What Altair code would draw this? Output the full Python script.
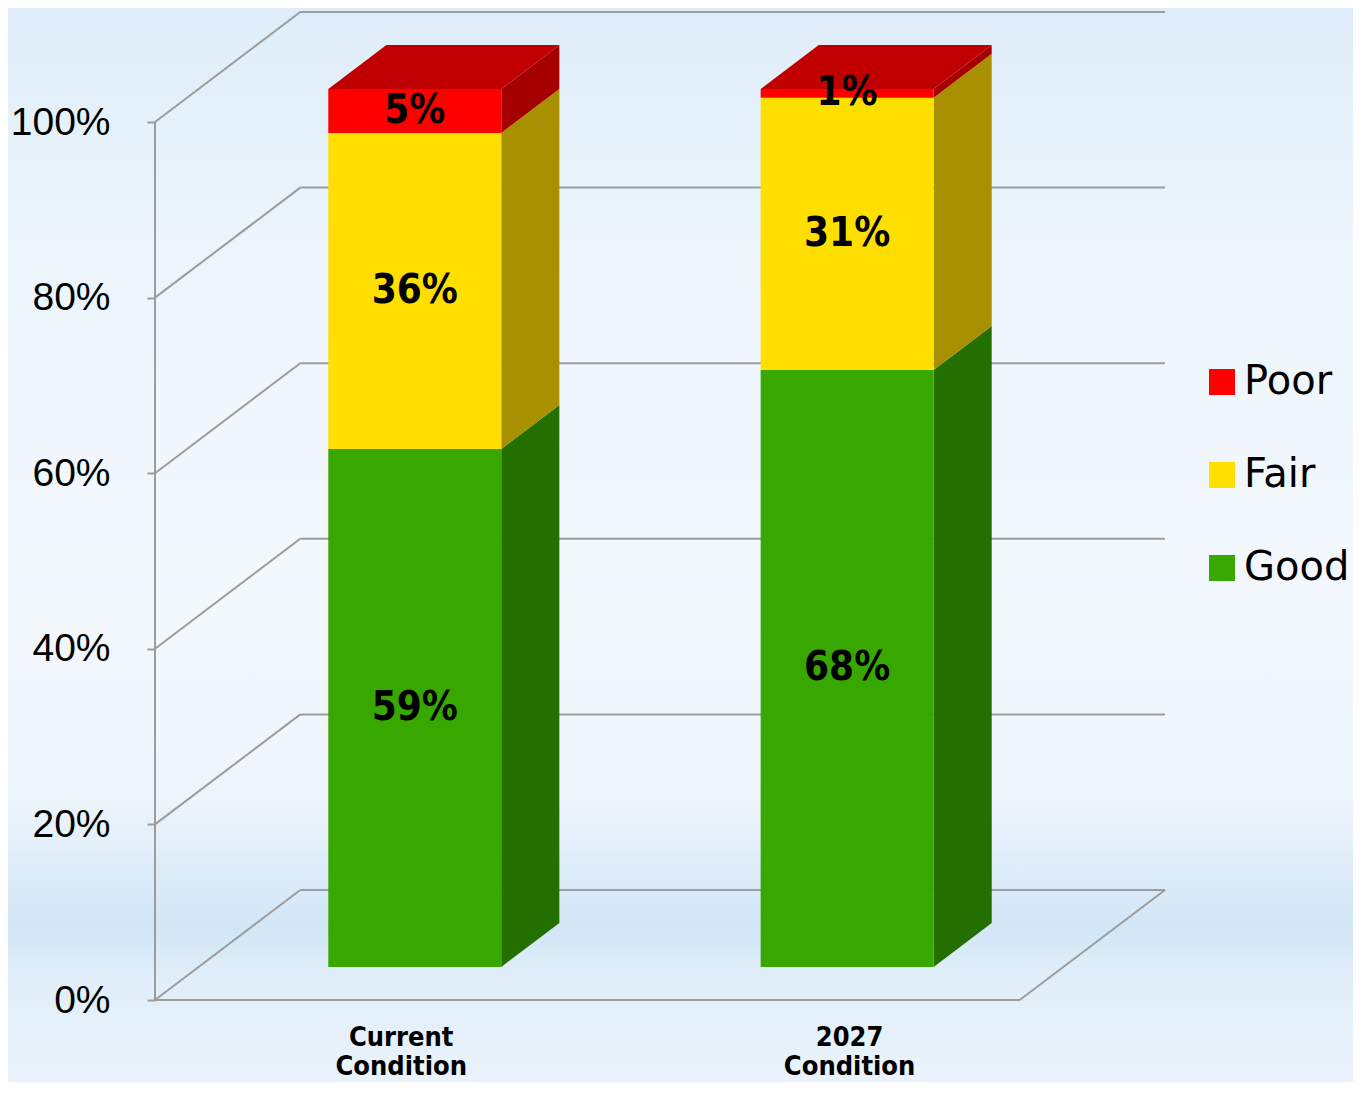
import altair as alt
import pandas as pd

# ---------------- data ----------------
categories = ["Current Condition", "2027 Condition"]
category_labels = ["Current\nCondition", "2027\nCondition"]
conditions = ["Good", "Fair", "Poor"]          # stacking order, bottom -> top
good = [59, 68]
fair = [36, 31]
poor = [5, 1]
y_ticks = [0, 20, 40, 60, 80, 100]
legend_order = ["Poor", "Fair", "Good"]

front_colors = {"Good": "#38A800", "Fair": "#FFDF00", "Poor": "#FF0000"}
side_colors = {"Good": "#236F00", "Fair": "#A89000", "Poor": "#A50000"}
top_colors = {"Good": "#2C8A00", "Fair": "#CCB000", "Poor": "#C00000"}

# ---------------- 3-D projection / layout constants ----------------
FLOOR = 100.0          # width of the front floor edge in x units
DX, DY = 16.8, 12.53   # depth offset of the back wall (x units, y units)
D0, D1 = 0.3, 0.7      # bar depth (fraction of the floor depth)
HALF = 10.0            # half bar width in x units
W, H = 1010, 988
PAD = {"left": 147, "top": 4, "right": 188, "bottom": 82}
GRID = "#9c9c9c"

x_scale = alt.Scale(domain=[0, FLOOR + DX], nice=False, zero=False)
y_scale = alt.Scale(domain=[0, 100 + DY], nice=False, zero=False)
y_axis = alt.Axis(
    values=y_ticks, labelExpr="datum.value + '%'", domain=False, grid=False,
    ticks=True, tickSize=8, tickColor=GRID, tickWidth=2, zindex=2,
    labelFont="Liberation Sans", labelFontSize=39,
    labelColor="black", labelPadding=37, labelBaseline="middle", title=None)


def X(field):
    return alt.X(field, type="quantitative", scale=x_scale, axis=None)


def Y(field):
    return alt.Y(field, type="quantitative", scale=y_scale, axis=y_axis, title=None)


values = {"Good": good, "Fair": fair, "Poor": poor}
front_rows, side_rows, top_rows, label_rows, cat_rows = [], [], [], [], []
n = len(categories)
sdx, sdy = (D1 - D0) * DX, (D1 - D0) * DY
for i, cat in enumerate(categories):
    c = (i + 0.5) * FLOOR / n
    fx0 = c - HALF + D0 * DX
    fx1 = c + HALF + D0 * DX
    base = 0.0
    top_cond, top_y = None, None
    for cond in conditions:
        v = values[cond][i]
        y0 = base + D0 * DY
        y1 = base + v + D0 * DY
        key = f"{cat}-{cond}"
        front_rows.append(dict(cat=cat, cond=cond, x=fx0, x2=fx1, y=y0, y2=y1))
        side_rows.append(dict(key=key, fill=side_colors[cond], x=fx1, y=y0, y2=y1))
        side_rows.append(dict(key=key, fill=side_colors[cond], x=fx1 + sdx, y=y0 + sdy, y2=y1 + sdy))
        label_rows.append(dict(x=(fx0 + fx1) / 2, y=(y0 + y1) / 2, text=f"{v}%"))
        if v > 0:
            top_cond, top_y = cond, y1
        base += v
    key = f"{cat}-top"
    top_rows.append(dict(key=key, fill=top_colors[top_cond], y=top_y, x=fx0, x2=fx1))
    top_rows.append(dict(key=key, fill=top_colors[top_cond], y=top_y + sdy, x=fx0 + sdx, x2=fx1 + sdx))
    cat_rows.append(dict(x=c + 4.4 + (c - FLOOR / 2) * 0.037, y=0, text=category_labels[i]))

rule_rows = []
for t in y_ticks:
    rule_rows.append(dict(x=DX, x2=FLOOR + DX, y=t + DY, y2=t + DY))   # back wall
    rule_rows.append(dict(x=0, x2=DX, y=t, y2=t + DY))                  # side wall diagonals
rule_rows.append(dict(x=0, x2=FLOOR, y=0, y2=0))                        # floor front edge
rule_rows.append(dict(x=FLOOR, x2=FLOOR + DX, y=0, y2=DY))              # floor right edge
rule_rows.append(dict(x=0, x2=0, y=0, y2=100))                          # value axis line

front_df = pd.DataFrame(front_rows)
side_df = pd.DataFrame(side_rows)
top_df = pd.DataFrame(top_rows)
label_df = pd.DataFrame(label_rows)
cat_df = pd.DataFrame(cat_rows)
rule_df = pd.DataFrame(rule_rows)

# ---------------- background ----------------
grad = alt.LinearGradient(
    gradient="linear", x1=0, x2=0, y1=0, y2=1,
    stops=[
        alt.GradientStop(color="#deedf9", offset=0.0),
        alt.GradientStop(color="#ecf5fc", offset=0.22),
        alt.GradientStop(color="#f3f8fd", offset=0.55),
        alt.GradientStop(color="#edf5fc", offset=0.735),
        alt.GradientStop(color="#dcebf8", offset=0.81),
        alt.GradientStop(color="#d2e6f6", offset=0.856),
        alt.GradientStop(color="#e0eef9", offset=0.90),
        alt.GradientStop(color="#eaf3fb", offset=1.0),
    ],
)
bg = alt.Chart(pd.DataFrame({"a": [0]})).mark_rect(color=grad).encode(
    x=alt.value(-PAD["left"]), x2=alt.value(W + PAD["right"]),
    y=alt.value(-PAD["top"]), y2=alt.value(H + PAD["bottom"]),
)

rules = alt.Chart(rule_df).mark_rule(color=GRID, strokeWidth=2).encode(
    x=X("x"), x2="x2:Q", y=Y("y"), y2="y2:Q",
)

sides = alt.Chart(side_df).mark_area(orient="vertical", interpolate="linear").encode(
    x=X("x"), y=Y("y"), y2="y2:Q",
    detail="key:N",
    fill=alt.Fill("fill:N", scale=None),
)

fronts = alt.Chart(front_df).mark_rect().encode(
    x=X("x"), x2="x2:Q", y=Y("y"), y2="y2:Q",
    color=alt.Color("cond:N", scale=alt.Scale(domain=legend_order,
                                               range=[front_colors[c] for c in legend_order]),
                    legend=alt.Legend(orient="none", legendX=1047, legendY=350, title=None,
                                      symbolType="square", symbolSize=676, symbolStrokeWidth=0,
                                      symbolOpacity=1, labelFont="DejaVu Sans", labelFontSize=40,
                                      labelColor="black", labelOffset=2, rowPadding=53,
                                      padding=0, zindex=2)),
)

tops = alt.Chart(top_df).mark_area(orient="horizontal", interpolate="linear").encode(
    y=Y("y"), x=X("x"), x2="x2:Q",
    detail="key:N",
    fill=alt.Fill("fill:N", scale=None),
)

labels = alt.Chart(label_df).mark_text(
    font="DejaVu Sans Condensed", fontWeight="bold", fontSize=40, color="black",
    align="center", baseline="middle",
).encode(x=X("x"), y=Y("y"), text="text:N")

cat_labels = alt.Chart(cat_df).mark_text(
    font="DejaVu Sans Condensed", fontWeight="bold", fontSize=27, color="black",
    align="center", baseline="alphabetic", dy=46, lineHeight=29, lineBreak="\n",
).encode(x=X("x"), y=Y("y"), text="text:N")

chart = alt.layer(bg, rules, sides, fronts, tops, labels, cat_labels).properties(
    width=W, height=H, padding=PAD, autosize=alt.AutoSizeParams(type="none"),
).configure(background="#eaf4fc").configure_view(stroke=None)

chart.save("out.html", embed_options={"renderer": "svg", "actions": False})
